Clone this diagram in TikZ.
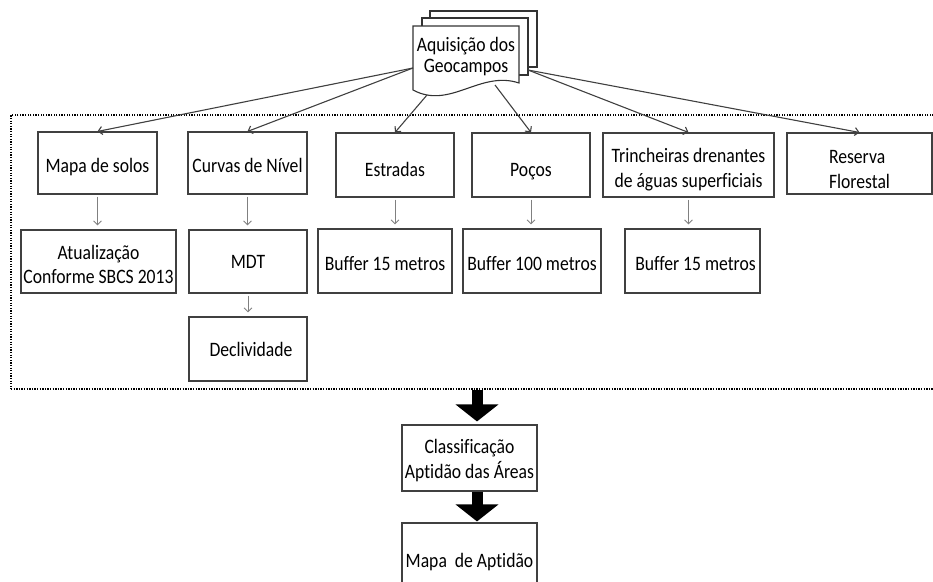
\documentclass[tikz,border=0pt]{standalone}
\usepackage{fontspec}
\setmainfont{Carlito}[Ligatures={NoCommon}, FakeStretch=0.86]
\usetikzlibrary{arrows.meta,calc}
\begin{document}
\begin{tikzpicture}[x=1pt,y=-1pt,
  txt/.style={inner sep=0pt, align=center, font=\fontsize{20.5}{24.5}\selectfont},
  box/.style={draw=black!75, line width=1.1pt, fill=white, inner sep=0pt, align=center,
    font=\fontsize{20.5}{24.5}\selectfont, text height=22pt, text depth=4pt},
  doc/.style={draw=black!80, line width=1.1pt, fill=white},
  diag/.style={draw=black!75, line width=1.1pt, -{Straight Barb[length=4pt,width=8pt]}},
  vert/.style={draw=black!50, line width=0.9pt, -{Straight Barb[length=4pt,width=8pt]}, shorten <=2pt, shorten >=4pt},
  big/.style={draw=black, line width=11pt, -{Triangle[length=17pt,width=42pt]}},
  frame/.style={draw=black, line width=1.3pt, dash pattern=on 1.3pt off 1.3pt, inner sep=0pt}
]
\useasboundingbox (0,0) rectangle (933,581);
\clip (0,0) rectangle (933,581);
% dotted frame
\node[frame, minimum width=934pt, minimum height=274pt] (frame) at (478,252) {};
% multi-document
\draw[doc] (430,11) rectangle (537,67);
\draw[doc] (422,18) rectangle (528,75);
\draw[doc] (413,26) -- (519,26) -- (519,83) .. controls (480,70) and (450,110) .. (413,90) -- cycle;
\node[txt, font=\fontsize{20.5}{21}\selectfont] (acq) at (466,57) {Aquisição dos\\Geocampos};
\coordinate (docL) at (413,68);
\coordinate (docB1) at (427,95);
\coordinate (docB2) at (495,85);
\coordinate (docR) at (528,70);
% top row
\node[box, minimum width=119pt, minimum height=62pt] (mapa) at (97.5,163) {Mapa de solos};
\node[box, minimum width=119pt, minimum height=62pt] (curvas) at (247.5,163) {Curvas de Nível};
\node[box, minimum width=118pt, minimum height=64pt, text height=26pt] (estradas) at (395,165) {Estradas};
\node[box, minimum width=118pt, minimum height=64pt, text height=26pt] (pocos) at (531,165) {Poços};
\node[box, minimum width=171pt, minimum height=64pt,
  label={[txt, yshift=-4.5pt]center:{Trincheiras drenantes\\de águas superficiais}}] (trinch) at (688.5,165) {};
\node[box, minimum width=145pt, minimum height=61pt,
  label={[txt, align=left, yshift=-6pt]center:{Reserva\\Florestal}}] (reserva) at (859.5,163.5) {};
% second row
\node[box, minimum width=155pt, minimum height=63pt,
  label={[txt, yshift=-3pt]center:{Atualização\\Conforme SBCS 2013}}] (atual) at (98.5,261.5) {};
\node[box, minimum width=118pt, minimum height=63pt, text height=17pt] (mdt) at (248,261.5) {MDT};
\node[box, minimum width=118pt, minimum height=64pt, text height=19.5pt] (decl) at (248,349) {\hspace*{6pt}Declividade};
\node[box, minimum width=134pt, minimum height=64pt] (buf1) at (385,261) {Buffer 15 metros};
\node[box, minimum width=138pt, minimum height=64pt] (buf2) at (532,261) {Buffer 100 metros};
\node[box, minimum width=135pt, minimum height=64pt] (buf3) at (692.5,261) {\hspace*{6pt}Buffer 15 metros};
% bottom
\node[box, minimum width=135pt, minimum height=66pt,
  label={[txt, yshift=-2.5pt]center:{Classificação\\Aptidão das Áreas}}] (classif) at (469.5,458) {};
\node[box, minimum width=135pt, minimum height=77pt, text height=15pt] (mapaapt) at (469.5,561.5) {Mapa\ \ de Aptidão};
% diagonal connectors
\draw[diag] (docL) -- (mapa.north);
\draw[diag] (docL) -- (curvas.north);
\draw[diag] (docB1) -- (estradas.north);
\draw[diag] (docB2) -- (pocos.north);
\draw[diag] (docR) -- (trinch.north);
\draw[diag] (docR) -- (reserva.north);
% vertical connectors
\draw[vert] (mapa.south) -- (mapa.south |- atual.north);
\draw[vert] (curvas.south) -- (curvas.south |- mdt.north);
\draw[vert] (mdt.south) -- (mdt.south |- decl.north);
\draw[vert] (estradas.south) -- (estradas.south |- buf1.north);
\draw[vert] (pocos.south) -- (pocos.south |- buf2.north);
\draw[vert] (trinch.south) -- (trinch.south |- buf3.north);
% big arrows
\coordinate (ax) at (477,0);
\draw[big] (frame.south -| ax) -- ([yshift=3pt]classif.north -| ax);
\draw[big] (classif.south -| ax) -- ([yshift=1pt]mapaapt.north -| ax);
\end{tikzpicture}
\end{document}
